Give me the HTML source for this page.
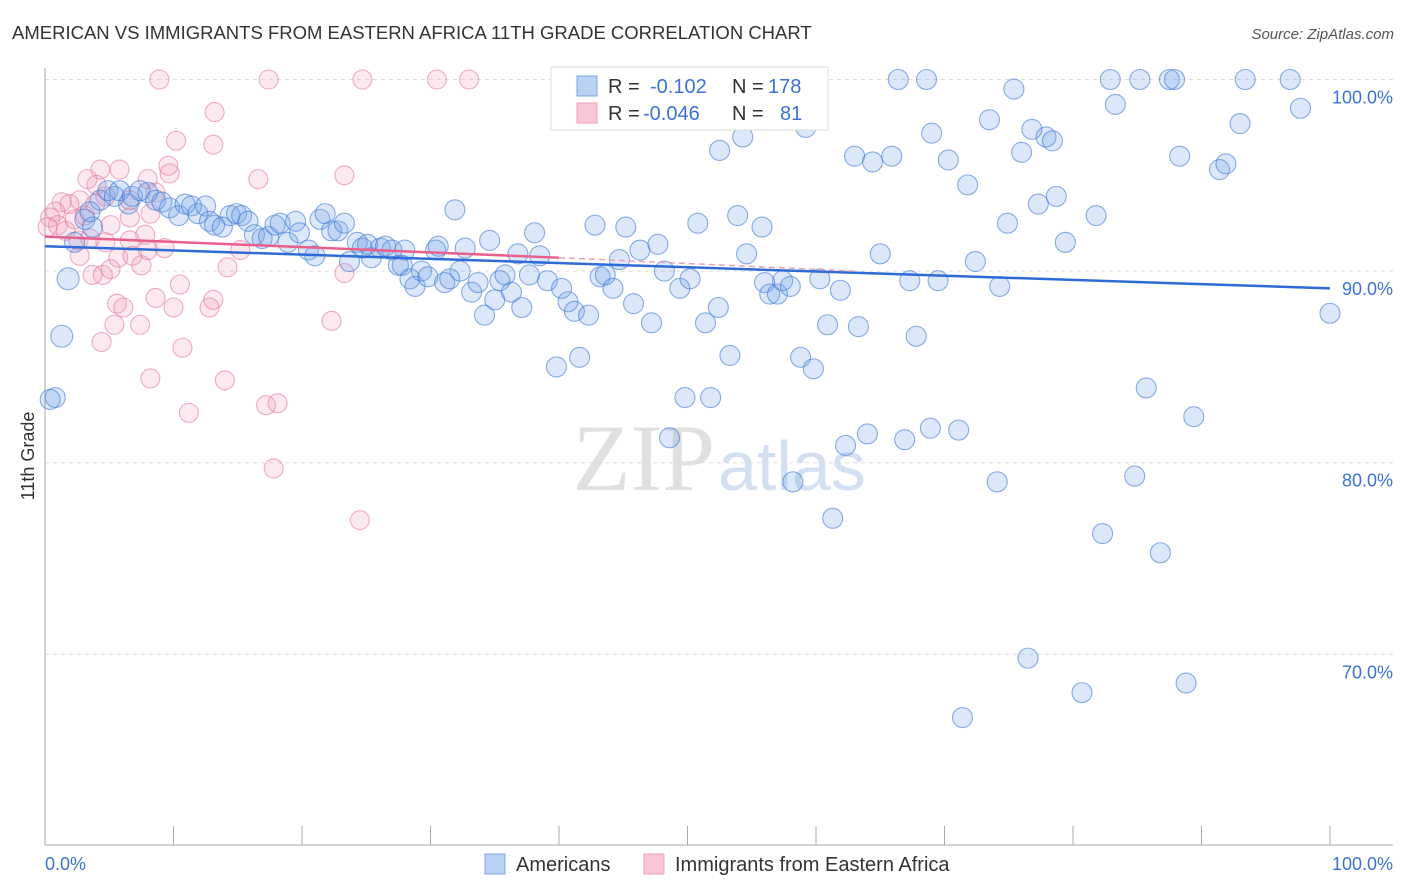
<!DOCTYPE html>
<html><head><meta charset="utf-8"><style>
body{margin:0;background:#fff;font-family:"Liberation Sans",sans-serif}
svg{display:block}
</style></head><body>
<svg id="chart" width="1406" height="892">
<text x="12" y="39" font-size="18.5" fill="#333">AMERICAN VS IMMIGRANTS FROM EASTERN AFRICA 11TH GRADE CORRELATION CHART</text>
<text x="1394" y="39" font-size="15" fill="#555" font-style="italic" text-anchor="end">Source: ZipAtlas.com</text>
<text x="715" y="490" font-size="95" fill="#e0e0e0" font-family="Liberation Serif" text-anchor="end">ZIP</text>
<text x="718" y="490" font-size="70" fill="#d3e0f2">atlas</text>
<text transform="translate(34,456) rotate(-90)" font-size="18" fill="#333" text-anchor="middle">11th Grade</text>
<g id="grid"></g>
<g id="pts"></g>
<g id="trend"></g>
<g>
<rect x="551" y="67" width="277" height="63" fill="#fff" stroke="#ddd"/>
<rect x="577" y="76" width="20" height="20" fill="#b9d1f3" stroke="#7ba3e0"/>
<rect x="577" y="103" width="20" height="20" fill="#f9c6d5" stroke="#eca0b8"/>
<text x="608" y="93" font-size="20" fill="#333">R = <tspan fill="#3b73d4" x="650">-0.102</tspan><tspan fill="#333" x="732">N = </tspan><tspan fill="#3b73d4" x="768">178</tspan></text>
<text x="608" y="120" font-size="20" fill="#333">R = <tspan fill="#3b73d4" x="643">-0.046</tspan><tspan fill="#333" x="732">N = </tspan><tspan fill="#3b73d4" x="780">81</tspan></text>
</g>
<g>
<rect x="485" y="854" width="20" height="20" fill="#b9d1f3" stroke="#7ba3e0"/>
<text x="516" y="871" font-size="20" fill="#333">Americans</text>
<rect x="644" y="854" width="20" height="20" fill="#f9c6d5" stroke="#eca0b8"/>
<text x="675" y="871" font-size="20" fill="#333">Immigrants from Eastern Africa</text>
</g>
<text x="45" y="870" font-size="18" fill="#3b73d4">0.0%</text>
<text x="1393" y="870" font-size="18" fill="#3b73d4" text-anchor="end">100.0%</text>
</svg>
<script>
const yTicks=[100,90,80,70];
const yTickLabels=["100.0%","90.0%","80.0%","70.0%"];
const xTicks=[0,10,20,30,40,50,60,70,80,90,100];
const blueX=[1.8,1.3,0.8,0.4,2.3,3.1,3.7,3.5,4.3,4.9,5.4,5.8,6.5,6.8,7.4,8.0,8.6,9.1,9.7,10.4,10.9,11.4,11.9,12.5,12.8,13.2,13.8,14.4,14.9,15.3,15.8,16.3,16.9,17.4,17.9,18.3,18.9,19.5,19.8,20.5,21.0,21.4,21.8,22.3,22.8,23.3,23.7,24.3,24.7,25.1,25.4,26.1,26.5,27.0,27.5,27.8,28.0,28.4,28.8,29.3,29.8,30.4,30.6,31.1,31.5,31.9,32.3,32.7,33.2,33.7,34.2,34.6,35.0,35.4,35.8,36.3,36.8,37.1,37.7,38.1,38.5,39.1,39.8,40.2,40.7,41.2,41.6,42.3,42.8,43.2,43.6,44.2,44.7,45.2,45.8,46.3,47.2,47.7,48.2,48.6,49.4,49.8,50.2,50.8,51.4,51.8,52.4,52.5,53.3,53.9,54.3,54.6,55.8,56.0,56.4,57.0,57.4,58.0,58.2,58.8,59.2,59.8,60.3,60.9,61.3,61.9,62.3,63.0,63.3,64.0,64.4,65.0,65.9,66.4,66.9,67.3,67.8,68.6,69.0,69.5,70.3,71.1,71.4,71.8,72.4,73.5,74.1,74.3,74.9,75.4,76.0,76.5,76.8,77.3,77.9,78.4,78.7,79.4,80.7,81.8,82.3,82.9,83.3,84.8,85.2,85.7,86.8,87.5,87.9,88.3,88.8,89.4,91.4,91.9,93.0,93.4,96.9,97.7,100,68.9];
const blueY=[89.6,86.6,83.4,83.3,91.5,92.7,92.3,93.1,93.7,94.2,93.9,94.2,93.5,93.9,94.2,94.1,93.7,93.6,93.3,92.9,93.5,93.4,93.0,93.4,92.6,92.4,92.3,92.9,93.0,92.9,92.6,91.9,91.7,91.8,92.4,92.5,91.5,92.6,92.0,91.1,90.8,92.7,93.0,92.1,92.1,92.5,90.5,91.5,91.2,91.4,90.7,91.2,91.3,91.1,90.3,90.3,91.1,89.6,89.2,90.0,89.7,91.1,91.3,89.4,89.6,93.2,90.0,91.2,88.9,89.4,87.7,91.6,88.5,89.5,89.8,88.9,90.9,88.1,89.8,92.0,90.8,89.5,85.0,89.1,88.4,87.9,85.5,87.7,92.4,89.7,89.8,89.1,90.6,92.3,88.3,91.1,87.3,91.4,90.0,81.3,89.1,83.4,89.6,92.5,87.3,83.4,88.1,96.3,85.6,92.9,97.0,90.9,92.3,89.4,88.8,88.8,89.5,89.2,79.0,85.5,97.5,84.9,89.6,87.2,77.1,89.0,80.9,96.0,87.1,81.5,95.7,90.9,96.0,100,81.2,89.5,86.6,100,97.2,89.5,95.8,81.7,66.7,94.5,90.5,97.9,79.0,89.2,92.5,99.5,96.2,69.8,97.4,93.5,97.0,96.8,93.9,91.5,68.0,92.9,76.3,100,98.7,79.3,100,83.9,75.3,100,100,96.0,68.5,82.4,95.3,95.6,97.7,100,100,98.5,87.8,81.8];
const pinkX=[8.9,17.4,24.7,30.5,33.0,13.2,10.2,13.1,9.6,9.7,4.3,5.8,3.3,4.0,8.0,16.6,23.3,8.6,6.6,4.7,2.7,1.3,1.9,0.8,0.4,1.0,0.2,1.6,2.3,3.1,3.9,8.2,5.1,6.6,2.6,3.5,4.7,6.6,7.8,2.7,5.7,6.8,8.0,9.3,15.2,3.7,4.5,5.1,7.5,14.2,23.3,10.5,5.6,6.1,8.6,10.0,13.1,12.8,5.4,7.4,4.4,10.7,22.3,8.2,14.0,11.2,17.2,18.1,17.8,24.5];
const pinkY=[100,100,100,100,100,98.3,96.8,96.6,95.5,95.1,95.3,95.3,94.8,94.5,94.8,94.8,95.0,94.1,93.7,93.9,93.7,93.6,93.5,93.1,92.8,92.4,92.3,92.1,92.7,92.9,93.5,93.0,92.4,92.8,91.6,91.7,91.5,91.6,91.9,90.8,90.7,90.8,91.1,91.2,91.1,89.8,89.8,90.1,90.3,90.2,89.9,89.3,88.3,88.1,88.6,88.1,88.5,88.1,87.2,87.2,86.3,86.0,87.4,84.4,84.3,82.6,83.0,83.1,79.7,77.0];
const blueTrend=[91.3,89.1];
const pinkTrend=[91.8,90.7,90.0];
const pinkTrendX=[0,40,63];
const NS="http://www.w3.org/2000/svg";
const X0=45,X1=1330,Y100=79.5,PXPER=19.16;
const sx=v=>X0+(X1-X0)*v/100;
const sy=v=>Y100+(100-v)*PXPER;
function mk(tag,attrs,parent){const e=document.createElementNS(NS,tag);for(const k in attrs)e.setAttribute(k,attrs[k]);parent.appendChild(e);return e;}
const grid=document.getElementById('grid');
yTicks.forEach((t,i)=>{
 const l=mk('line',{x1:X0,x2:1393,y1:sy(t),y2:sy(t),stroke:'#ddd','stroke-dasharray':'4,4'},grid);
 
 
 const tx=mk('text',{x:1393,y:sy(t)+24,'font-size':18,fill:'#3b73d4','text-anchor':'end'},grid);
 tx.textContent=yTickLabels[i];
 
 
});
const ax=mk('line',{x1:X0,x2:1393,y1:845,y2:845,stroke:'#aaa'},grid);


const ay=mk('line',{x1:X0,x2:X0,y1:68,y2:845,stroke:'#aaa'},grid);


xTicks.forEach(t=>{
 const l=mk('line',{x1:sx(t),x2:sx(t),y1:826,y2:845,stroke:'#aaa'},grid);
 
 
});
const pts=document.getElementById('pts');
pinkX.forEach((x,i)=>{
 const c=mk('circle',{cx:sx(x),cy:sy(pinkY[i]),r:9.5,fill:'rgba(242,150,180,0.22)',stroke:'rgba(228,120,158,0.6)','stroke-width':1.1},pts);
 
 
});
blueX.forEach((x,i)=>{
 const c=mk('circle',{cx:sx(x),cy:sy(blueY[i]),r:(i<2?11:10),fill:'rgba(110,160,230,0.24)',stroke:'rgba(60,120,215,0.6)','stroke-width':1.1},pts);
 
 
});
const tr=document.getElementById('trend');
const bt=mk('line',{x1:sx(0),y1:sy(blueTrend[0]),x2:sx(100),y2:sy(blueTrend[1]),stroke:'#2f6bd6','stroke-width':2.5},tr);


const pt=mk('line',{x1:sx(pinkTrendX[0]),y1:sy(pinkTrend[0]),x2:sx(pinkTrendX[1]),y2:sy(pinkTrend[1]),stroke:'#e8608a','stroke-width':2.5},tr);


const pd=mk('line',{x1:sx(pinkTrendX[1]),y1:sy(pinkTrend[1]),x2:sx(pinkTrendX[2]),y2:sy(pinkTrend[2]),stroke:'#e8a0b8','stroke-width':1.5,'stroke-dasharray':'6,4'},tr);


</script>
</body></html>
